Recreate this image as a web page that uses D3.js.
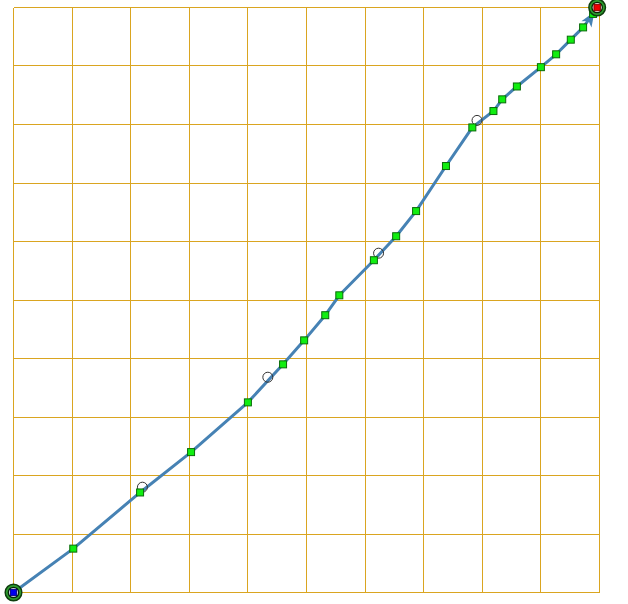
<!DOCTYPE html>
<html><head><meta charset="utf-8">
<script src="https://cdn.jsdelivr.net/npm/d3@7"></script>
<style>html,body{margin:0;padding:0;background:#fff;}svg{display:block;}</style>
</head><body>
<svg id="chart" width="628" height="604"></svg>
<script>
// Data (domain 0..100 on both axes)
const gridTicks = [0,10,20,30,40,50,60,70,80,90,100];
const startPoint = [0, 0];
const endPoint = [99.6, 100];
const pathX = [10.2,21.6,30.3,40.0,46.0,49.6,53.2,55.6,61.5,65.3,68.7,73.8,78.3,81.9,83.4,85.9,90.0,92.6,95.1,97.2,98.9];
const pathY = [7.5,17.1,24.0,32.5,39.0,43.1,47.4,50.8,56.8,60.9,65.2,72.9,79.5,82.3,84.3,86.5,89.8,92.0,94.5,96.6,98.9];
const circleX = [22.0,43.4,62.3,79.1];
const circleY = [18.0,36.8,58.0,80.7];

const svg = d3.select("#chart");
const x = d3.scaleLinear().domain([0,100]).range([13.5,599.5]);
const y = d3.scaleLinear().domain([0,100]).range([592.5,7.5]);

// grid
const g = svg.append("g").attr("shape-rendering","crispEdges");
g.selectAll("line.v").data(gridTicks).join("line")
  .attr("x1", d=>Math.floor(x(d))+0.5).attr("x2", d=>Math.floor(x(d))+0.5)
  .attr("y1", y(0)).attr("y2", y(100))
  .attr("stroke","#DAA520").attr("stroke-width",1);
g.selectAll("line.h").data(gridTicks).join("line")
  .attr("y1", d=>Math.floor(y(d))+0.5).attr("y2", d=>Math.floor(y(d))+0.5)
  .attr("x1", x(0)).attr("x2", x(100))
  .attr("stroke","#DAA520").attr("stroke-width",1);

// path
const pts = [startPoint].concat(pathX.map((v,i)=>[v,pathY[i]])).concat([endPoint]);
const line = d3.line().x(d=>x(d[0])).y(d=>y(d[1]));
svg.append("path").attr("d", line(pts)).attr("fill","none")
  .attr("stroke","#4682B4").attr("stroke-width",3).attr("stroke-linejoin","round");

// arrowhead along last segment
const pA = pts[pts.length-2], pB = pts[pts.length-1];
const ax = x(pA[0]), ay = y(pA[1]), bx = x(pB[0]), by = y(pB[1]);
const ang = Math.atan2(by-ay, bx-ax);
const tipX = bx - 5*Math.cos(ang), tipY = by - 5*Math.sin(ang);
const L = 15, W = 6;
const baseX = tipX - L*Math.cos(ang), baseY = tipY - L*Math.sin(ang);
const nx = -Math.sin(ang), ny = Math.cos(ang);
svg.append("path")
  .attr("d", `M${tipX},${tipY}L${baseX+nx*W},${baseY+ny*W}L${baseX+4*Math.cos(ang)},${baseY+4*Math.sin(ang)}L${baseX-nx*W},${baseY-ny*W}Z`)
  .attr("fill","#4682B4");

// open circles
svg.selectAll("circle.o").data(circleX.map((v,i)=>[v,circleY[i]])).join("circle")
  .attr("cx", d=>x(d[0])).attr("cy", d=>y(d[1])).attr("r",5)
  .attr("fill","none").attr("stroke","#333").attr("stroke-width",1);

// squares
svg.selectAll("rect.s").data(pathX.map((v,i)=>[v,pathY[i]])).join("rect")
  .attr("x", d=>x(d[0])-3.5).attr("y", d=>y(d[1])-3.5).attr("width",7).attr("height",7)
  .attr("fill","#11EE11").attr("stroke","#0A6A0A").attr("stroke-width",1);

// start / end markers
function endMarker(p, color, stroke){
  const cx = x(p[0]), cy = y(p[1]);
  svg.append("circle").attr("cx",cx).attr("cy",cy).attr("r",8.3)
    .attr("fill","#2E9E2E").attr("stroke","#0E3E0E").attr("stroke-width",1.5);
  svg.append("circle").attr("cx",cx).attr("cy",cy).attr("r",5.2)
    .attr("fill","#fff").attr("stroke","#052505").attr("stroke-width",1.3);
  svg.append("rect").attr("x",cx-3.2).attr("y",cy-3.2).attr("width",6.4).attr("height",6.4)
    .attr("fill",color).attr("stroke",stroke).attr("stroke-width",1);
}
endMarker(startPoint, "#0000EE", "#000080");
endMarker(endPoint, "#EE0000", "#800000");
</script>
</body></html>
